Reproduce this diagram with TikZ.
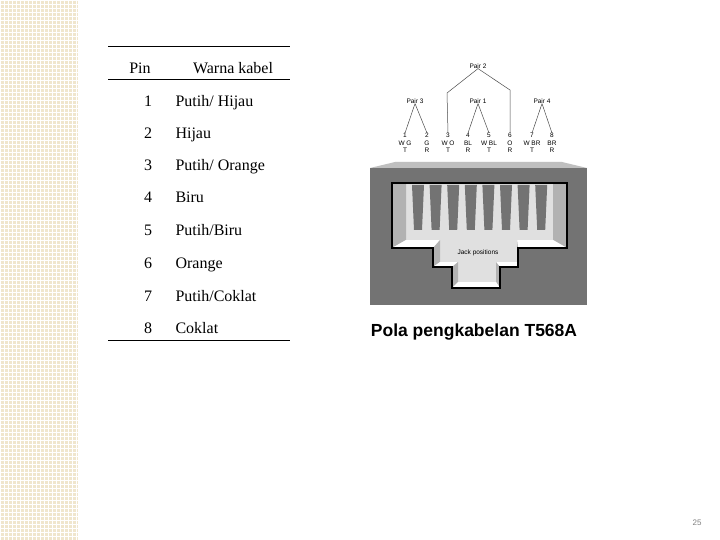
\documentclass[tikz,border=0pt]{standalone}
\usepackage{fontspec}
\setmainfont{Liberation Serif}
\newfontfamily\sans{Liberation Sans}
\begin{document}
\begin{tikzpicture}[x=1pt,y=-1pt,
 cell/.style={anchor=base west,font=\fontsize{16}{18}\selectfont},
 pin/.style={anchor=base,font=\fontsize{16}{18}\selectfont},
 tiny/.style={font=\sans\fontsize{6.5}{7.5}\selectfont,inner sep=0pt,align=center},
 wire/.style={black!70,line width=0.5pt}]
\useasboundingbox (0,0) rectangle (720,540);
\fill[white] (0,0) rectangle (720,540);
\fill[fill={rgb,255:red,240;green,230;blue,205}] (0,0) rectangle (78,540);
\foreach \y in {0,4,...,540}{\draw[white,line width=0.3pt] (0,\y)--(78,\y);}
\foreach \x in {0,4,...,76}{\draw[white,line width=0.3pt] (\x,0)--(\x,540);}
% table
\draw[line width=1pt] (108,47)--(290,47);
\draw[line width=1pt] (108,80)--(290,80);
\draw[line width=1pt] (108,340)--(290,340);
\node[pin] (hp) at (140,74) {Pin};
\node[pin] (hw) at (233,74) {Warna kabel};
\foreach \i/\c/\y in {1/{Putih/ Hijau}/101,2/Hijau/133,3/{Putih/ Orange}/165,4/Biru/197,5/{Putih/Biru}/230,6/Orange/262,7/{Putih/Coklat}/295,8/Coklat/327}{
 \node[pin] (p\i) at (148,\y+6) {\i};
 \node[cell] (c\i) at (172,\y+6) {\c};}
% jack
\fill[black!55] (370,168) rectangle (587,305);
\fill[black!25] (370,168)--(395,162)--(562,162)--(587,168)--cycle;
\fill[black!12] (392,183)--(567,183)--(567,248)--(518,248)--(518,267)--(500,267)--(500,288)--(452,288)--(452,267)--(433,267)--(433,248)--(392,248)--cycle;
\fill[black!30] (392,183)--(406,183)--(406,240)--(392,248)--cycle;
\fill[black!30] (567,183)--(553,183)--(553,240)--(567,248)--cycle;
\fill[white] (406,240)--(440,240)--(433,248)--(392,248)--cycle;
\fill[white] (553,240)--(517,240)--(518,248)--(567,248)--cycle;
\fill[black!30] (433,248)--(440,240)--(440,262)--(433,267)--cycle;
\fill[black!30] (518,248)--(517,240)--(517,262)--(518,267)--cycle;
\fill[white] (433,267)--(452,267)--(458,262)--(440,262)--cycle;
\fill[white] (518,267)--(500,267)--(496,262)--(517,262)--cycle;
\fill[black!30] (452,267)--(458,262)--(458,282)--(452,288)--cycle;
\fill[black!30] (500,267)--(496,262)--(496,282)--(500,288)--cycle;
\fill[white] (452,288)--(458,282)--(496,282)--(500,288)--cycle;
\foreach \k in {0,...,7}{
 \pgfmathsetmacro\xa{412+\k*17.6}
 \fill[black!55] (\xa,185)--(\xa+12,185)--(\xa+10,230)--(\xa+2,230)--cycle;}
\draw[line width=1.8pt] (392,183)--(567,183)--(567,248)--(518,248)--(518,267)--(500,267)--(500,288)--(452,288)--(452,267)--(433,267)--(433,248)--(392,248)--cycle;
\node[tiny] (jp) at (478,253) {Jack positions};
% labels
\node[tiny] (pr2) at (478,66) {Pair 2};
\node[tiny] (pr3) at (415,101) {Pair 3};
\node[tiny] (pr1) at (478,101) {Pair 1};
\node[tiny] (pr4) at (542,101) {Pair 4};
\foreach \n/\x/\a/\b in {1/405/W G/T,2/427/G/R,3/448/W O/T,4/468/BL/R,5/489/W BL/T,6/510/O/R,7/532/W BR/T,8/552/BR/R}{
 \node[tiny] (n\n) at (\x,143) {\n\\\a\\\b};}
\draw[wire] (pr2.south)--(447,93)--(n3.north);
\draw[wire] (pr2.south)--(510,90)--(n6.north);
\draw[wire] (pr3.south)--(n1.north); \draw[wire] (pr3.south)--(n2.north);
\draw[wire] (pr1.south)--(n4.north); \draw[wire] (pr1.south)--(n5.north);
\draw[wire] (pr4.south)--(n7.north); \draw[wire] (pr4.south)--(n8.north);
\node[font=\sans\bfseries\fontsize{17.5}{19}\selectfont] (cap) at (474,332) {Pola pengkabelan T568A};
\node[font=\sans\fontsize{8}{9}\selectfont,text=black!50] (pg) at (697,523) {25};
\end{tikzpicture}
\end{document}
